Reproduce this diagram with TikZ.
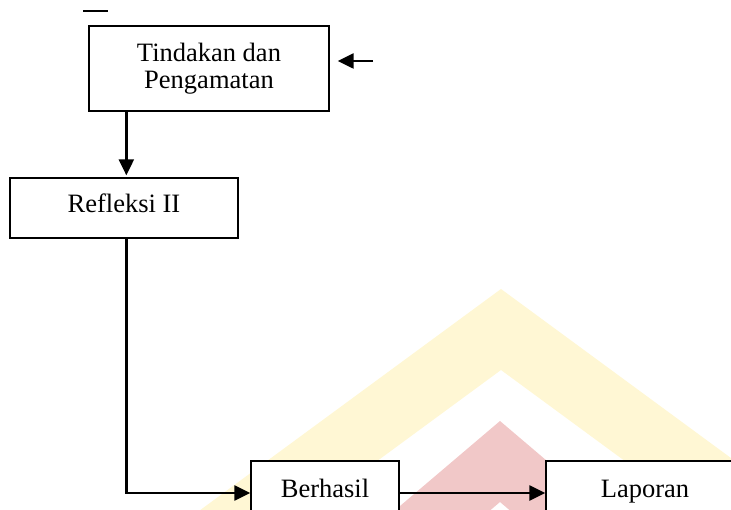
\documentclass[tikz,border=0pt]{standalone}
\usepackage{fontspec}
\setmainfont{Liberation Serif}
\usetikzlibrary{arrows.meta}
\definecolor{wmyellow}{HTML}{FFF7D4}
\definecolor{wmred}{HTML}{F1C8C8}
\begin{document}
\begin{tikzpicture}[x=1pt,y=-1pt,
  box/.style={draw,fill=white,line width=1.3pt,inner sep=0pt,font=\fontsize{26.5}{27.5}\selectfont},
  arr/.style={line width=2.3pt,-{Triangle[length=16pt,width=15pt]}},
  ]
\useasboundingbox (0,0) rectangle (731,510);
\clip (0,0) rectangle (731,510);
% watermark
\fill[wmyellow] (501,289) -- (101,583) -- (101,664) -- (501,370) -- (901,664) -- (901,583) -- cycle;
\fill[wmred] (500,421) -- (300,591) -- (300,672) -- (500,502) -- (700,672) -- (700,591) -- cycle;
% nodes
\node[box, minimum width=240pt, minimum height=85pt, align=center] (tind) at (209,68.5) {Tindakan dan\\Pengamatan};
\node[box, minimum width=228pt, minimum height=60pt, text height=17.5pt, text depth=7.5pt] (ref) at (124,208) {Refleksi II};
\node[box, minimum width=148pt, minimum height=54pt, text height=18pt, text depth=0pt] (ber) at (325,488) {Berhasil};
\node[box, minimum width=198pt, minimum height=54pt, text height=18pt, text depth=0pt] (lap) at (645,488) {Laporan};
% free ends
\coordinate (d1) at (83,11);
\coordinate (d2) at (108,11);
\coordinate (fromR) at (373,61);
% connectors
\draw[line width=1.6pt] (d1) -- (d2);
\draw[arr, shorten >=8pt] (fromR) -- (tind.east |- fromR);
\draw[arr, shorten >=2pt] ([xshift=38pt]tind.south west) -- ([xshift=38pt]tind.south west |- ref.north);
\draw[arr] ([xshift=117pt]ref.south west) |- ([yshift=-5pt]ber.west);
\draw[arr] ([yshift=-5pt]ber.east) -- ([yshift=-5pt]lap.west);
\end{tikzpicture}
\end{document}
